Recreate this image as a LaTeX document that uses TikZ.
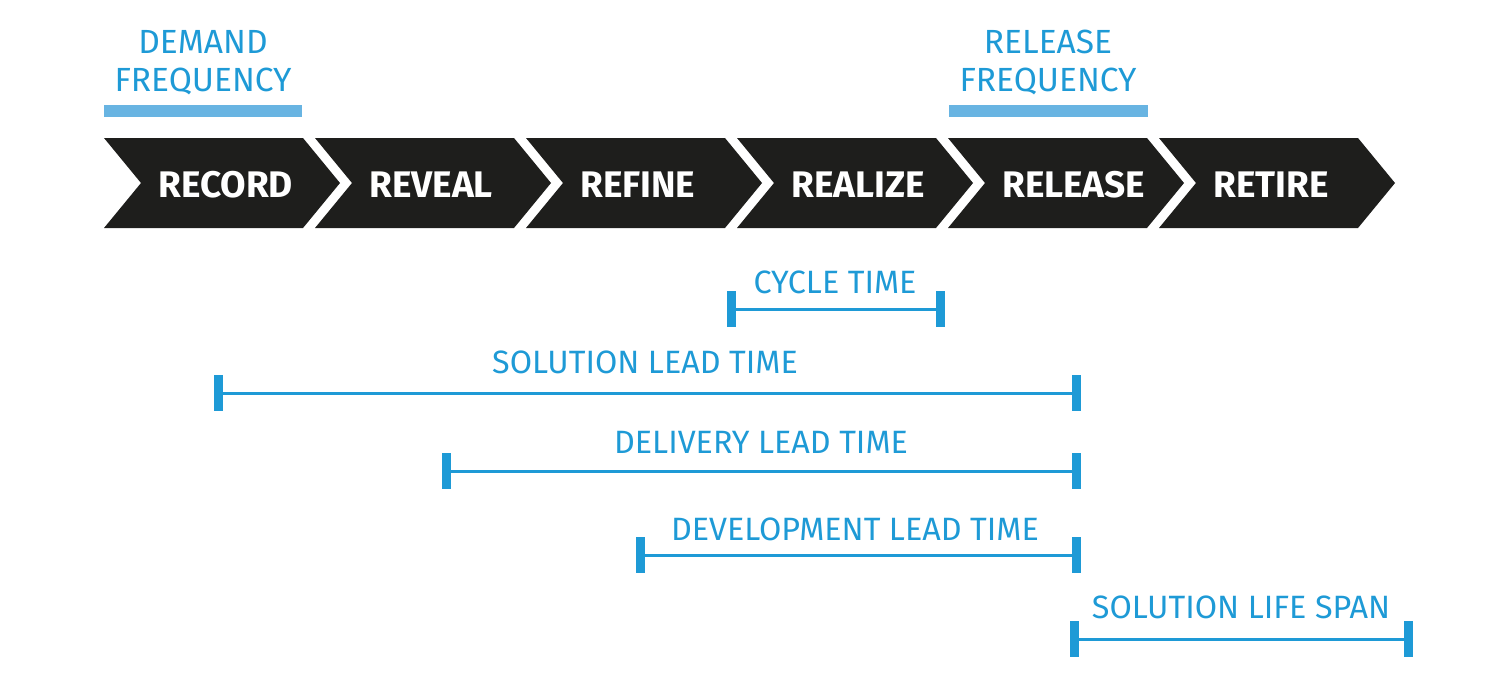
\documentclass[tikz,border=0pt]{standalone}
\usepackage{fontspec}
\setmainfont{Fira Sans}
\definecolor{chev}{RGB}{30,30,28}
\definecolor{mblue}{RGB}{30,154,214}
\definecolor{lblue}{RGB}{104,180,226}
\begin{document}
\begin{tikzpicture}[x=1pt,y=-1pt,
  stagetext/.style={text=white,font=\fontsize{37}{37}\selectfont\bfseries,inner sep=0pt,anchor=base west},
  toplabel/.style={text=mblue,font=\fontsize{33.5}{37}\selectfont,inner sep=0pt,anchor=base},
  topbar/.style={fill=lblue,draw=none},
  mlabel/.style={text=mblue,font=\fontsize{32.3}{32.3}\selectfont,inner sep=0pt,anchor=base},
  mline/.style={draw=mblue,line width=3pt},
  mcap/.style={draw=mblue,line width=9pt}]
\useasboundingbox (0,0) rectangle (1500,694);
% chevrons
\foreach \i/\t in {0/RECORD,1/REVEAL,2/REFINE,3/REALIZE,4/RELEASE,5/RETIRE}{
  \pgfmathsetmacro\L{104+211*\i}
  \fill[chev] (\L,138) -- (\L+199,138) -- (\L+236,183) -- (\L+199,228) -- (\L,228) -- (\L+37,183) -- cycle;
  \node[stagetext] (s\i) at (\L+54,197) {\t};
}
% top labels
\node[toplabel] (dem1) at (203,53) {DEMAND};
\node[toplabel] (dem2) at (203,91) {FREQUENCY};
\fill[topbar] (104,105) rectangle (302,117);
\node[toplabel] (rel1) at (1048,53) {RELEASE};
\node[toplabel] (rel2) at (1048,91) {FREQUENCY};
\fill[topbar] (949,105) rectangle (1148,117);
% measures
\foreach \n/\a/\b/\y in {ct/731/940/309, sl/218/1076/393, dl/446/1076/471, dv/640/1076/555, ls/1074/1408/639}{
  \coordinate (\n A) at (\a,\y);
  \coordinate (\n B) at (\b,\y);
  \draw[mline] (\n A) -- (\n B);
  \draw[mcap] ([yshift=18pt]\n A) -- ([yshift=-18pt]\n A);
  \draw[mcap] ([yshift=18pt]\n B) -- ([yshift=-18pt]\n B);
}
\node[mlabel] (ctL) at (835,293) {CYCLE TIME};
\node[mlabel] (slL) at (645,373) {SOLUTION LEAD TIME};
\node[mlabel] (dlL) at (761,453) {DELIVERY LEAD TIME};
\node[mlabel] (dvL) at (855,540) {DEVELOPMENT LEAD TIME};
\node[mlabel] (lsL) at (1241,618) {SOLUTION LIFE SPAN};
\end{tikzpicture}
\end{document}
